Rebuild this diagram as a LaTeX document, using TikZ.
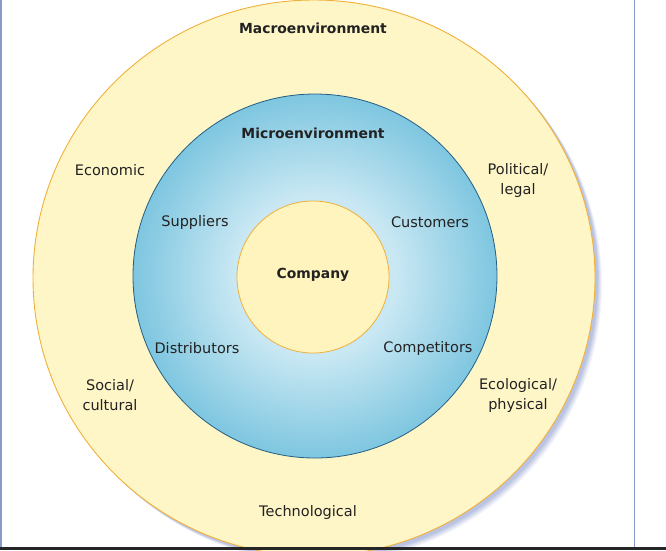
\documentclass[tikz,border=0pt]{standalone}
\usepackage{fontspec}
\usetikzlibrary{shapes.geometric}
\setmainfont{DejaVu Sans}
\definecolor{textcol}{HTML}{222222}
\definecolor{macrofill}{HTML}{FFF6C8}
\definecolor{macroline}{HTML}{F0B03A}
\definecolor{compfill}{HTML}{FFF4BE}
\definecolor{blueIn}{HTML}{C9E8F3}
\definecolor{blueOut}{HTML}{7EC6E0}
\definecolor{blueline}{HTML}{245E82}
\definecolor{shadowcol}{HTML}{6F82C0}
\definecolor{framecol}{HTML}{8A9AC8}
\pgfdeclareradialshading{microshade}{\pgfpoint{0bp}{0bp}}{color(0bp)=(blueIn); color(11bp)=(blueIn); color(25bp)=(blueOut); color(50bp)=(blueOut)}
\begin{document}
\begin{tikzpicture}[x=1pt,y=-1pt,
  lbl/.style={font=\fontsize{14.5}{20}\selectfont, text=textcol, align=center, inner sep=0pt},
  ttl/.style={font=\fontsize{13.9}{16}\selectfont\bfseries, text=textcol, align=center, inner sep=0pt}]
\useasboundingbox (0,0) rectangle (666,550);
% frame lines
\draw[framecol, line width=1.2pt] (1,0) -- (1,548);
\draw[framecol, line width=1.2pt] (634.5,0) -- (634.5,548);
% shadow of outer ellipse
\foreach \d/\o in {7/0.08,6/0.10,5/0.12,4/0.14,3/0.16}
  \fill[shadowcol, opacity=\o] (314+\d,278+\d) ellipse [x radius=281, y radius=278];
% outer ellipse
\node[ellipse, draw=macroline, line width=0.9pt, fill=macrofill, minimum width=562pt, minimum height=556pt, inner sep=0pt] (macro) at (314,278) {};
% micro circle
\node[circle, draw=blueline, line width=0.8pt, shading=microshade, minimum size=364pt, inner sep=0pt] (micro) at (315,276) {};
% company
\node[circle, draw=macroline, line width=0.8pt, fill=compfill, minimum size=152pt, inner sep=0pt] (company) at (313,277) {};
% bottom black rule
\fill[black!85] (0,546.5) rectangle (666,550);
% labels
\node[ttl] (tmacro) at (313,28) {Macroenvironment};
\node[ttl] (tmicro) at (313,133) {Microenvironment};
\node[ttl] (tcomp) at (313,275) {Company};
\node[lbl] (econ) at (110,170) {Economic};
\node[lbl] (pol) at (518,180) {Political/\\legal};
\node[lbl] (supp) at (195,222) {Suppliers};
\node[lbl] (cust) at (430,222) {Customers};
\node[lbl] (dist) at (197,348) {Distributors};
\node[lbl] (compt) at (428,348) {Competitors};
\node[lbl] (soc) at (110,395) {Social/\\cultural};
\node[lbl] (eco) at (518,395) {Ecological/\\physical};
\node[lbl] (tech) at (308,512) {Technological};
\end{tikzpicture}
\end{document}
